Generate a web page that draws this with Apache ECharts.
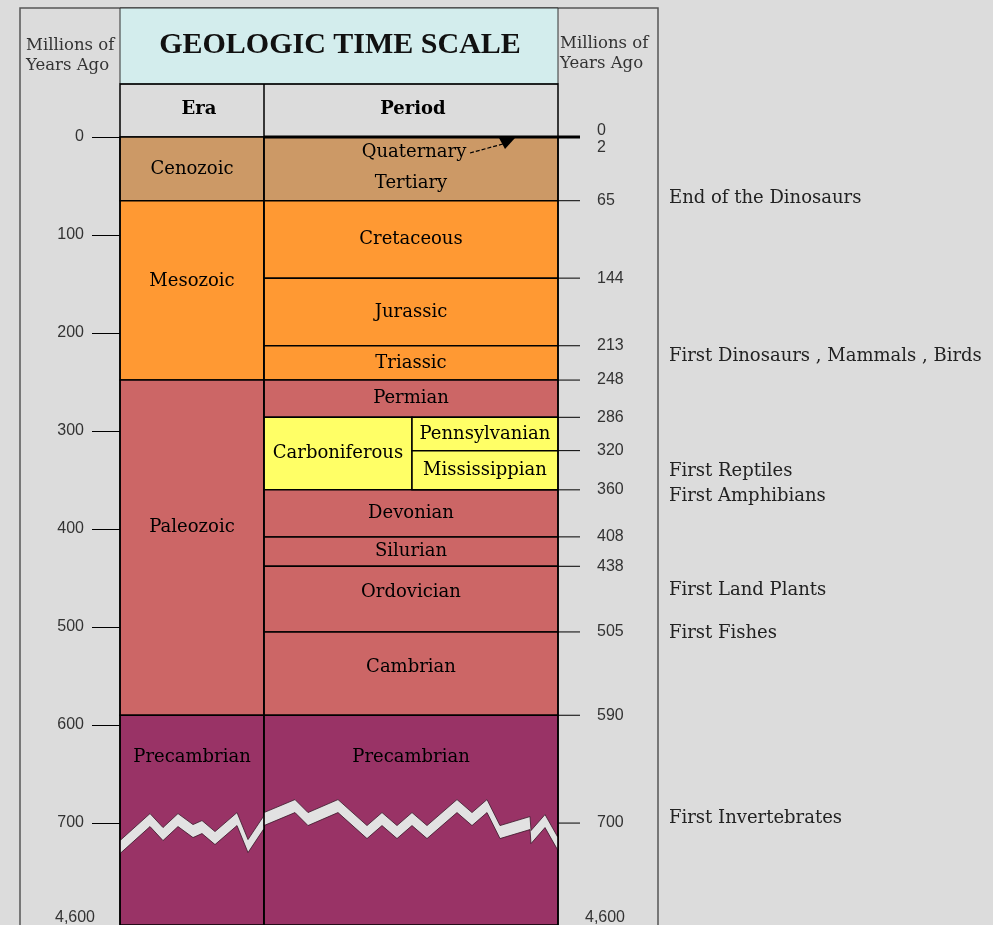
<!DOCTYPE html>
<html>
<head>
<meta charset="utf-8">
<script src="https://cdn.jsdelivr.net/npm/echarts@6/dist/echarts.min.js"></script>
<style>
html,body{margin:0;padding:0;background:#dcdcdc;}
#c{width:993px;height:925px;}
</style>
</head>
<body>
<div id="c"></div>
<script>
// ---------------- DATA (millions of years ago) ----------------
const eraNames   = ['Cenozoic', 'Mesozoic', 'Paleozoic', 'Precambrian'];
const eraStart   = [0, 65, 248, 590];
const eraEnd     = [65, 248, 590, 4600];

const periodNames = ['Tertiary', 'Cretaceous', 'Jurassic', 'Triassic', 'Permian', 'Carboniferous',
                     'Devonian', 'Silurian', 'Ordovician', 'Cambrian', 'Precambrian'];
const periodStart = [0, 65, 144, 213, 248, 286, 360, 408, 438, 505, 590];
const periodEnd   = [65, 144, 213, 248, 286, 360, 408, 438, 505, 590, 4600];

const subNames = ['Pennsylvanian', 'Mississippian'];
const subStart = [286, 320];
const subEnd   = [320, 360];

const quaternaryName = 'Quaternary';
const quaternaryEnd = 2;

const leftTicks = [0, 100, 200, 300, 400, 500, 600, 700];
const rightTicks = [65, 144, 213, 248, 286, 320, 360, 408, 438, 505, 590, 700];
const rightLabels = [0, 2, 65, 144, 213, 248, 286, 320, 360, 408, 438, 505, 590, 700, 4600];
const deepTime = 4600;

const eventNames = ['End of the Dinosaurs', 'First Dinosaurs , Mammals , Birds', 'First Reptiles',
                    'First Amphibians', 'First Land Plants', 'First Fishes', 'First Invertebrates'];
const eventAt = [63, 224, 341, 367, 463, 506, 695];

// ---------------- STYLE / LAYOUT ----------------
const ERA_COLORS = {Cenozoic:'#cc9966', Mesozoic:'#ff9933', Paleozoic:'#cc6666', Precambrian:'#993366'};
const PERIOD_COLORS = {Tertiary:'#cc9966', Cretaceous:'#ff9933', Jurassic:'#ff9933', Triassic:'#ff9933',
  Permian:'#cc6666', Carboniferous:'#ffff66', Devonian:'#cc6666', Silurian:'#cc6666', Ordovician:'#cc6666',
  Cambrian:'#cc6666', Precambrian:'#993366'};
const SUB_COLOR = '#ffff66';
const ERA_LABEL_AT = {Mesozoic:147, Paleozoic:398, Precambrian:633};
const PERIOD_LABEL_AT = {Tertiary:47, Ordovician:465, Cambrian:541, Precambrian:633};
const QUATERNARY_LABEL_AT = 16;
const COL = {eraL:120, eraR:264, carbSplit:412, periodR:558, tickR:580, numX:597, noteX:669};
const RIGHT_LABEL_DY = {0:-6, 2:9, 4600:-7};
const SERIF = "'DejaVu Serif', serif";
const SANS = "'Liberation Sans', Arial, sans-serif";
const BODY_SIZE = 18;
const NUM_SIZE = 16;
const ZIG_HALF = 6.5;

// axis compression beyond 700 Ma (break)
const BREAK_FROM = 700, AXIS_MAX = 804;
function pos(v) { return v <= BREAK_FROM ? v : BREAK_FROM + (v - BREAK_FROM) * (AXIS_MAX - BREAK_FROM) / (deepTime - BREAK_FROM); }

// zig-zag break marks: [x, pixel offset from 700 Ma line]
const ZIG_ERA = [[120,24],[150,-3],[163,11],[178,-3],[193,8],[202,4],[215,15],[237,-4],[248,23],[264,-1]];
const ZIG_PERIOD = [[264,-4],[295,-17],[308,-4],[338,-17],[367,9],[382,-4],[397,9],[412,-4],[427,9],
  [457,-17],[472,-4],[487,-17],[500,9],[530,0],[531,14],[545,-2],[558,21]];

function boxItem(api, x0, x1, s, e, color, label, labelAt) {
  const a = api.coord([x0, pos(s)]), b = api.coord([x1, pos(e)]);
  const ly = api.coord([x0, pos(labelAt)])[1];
  return {type:'group', children:[
    {type:'rect', shape:{x:a[0], y:a[1], width:b[0]-a[0], height:b[1]-a[1]},
      style:{fill:color, stroke:'#000', lineWidth:1.5}},
    {type:'text', x:(a[0]+b[0])/2, y:ly,
      style:{text:label, fill:'#000', fontSize:BODY_SIZE, fontFamily:SERIF, align:'center', verticalAlign:'middle'}}
  ]};
}

const chart = echarts.init(document.getElementById('c'));

const option = {
  animation: false,
  backgroundColor: '#dcdcdc',
  grid: {left: 120, right: 0, top: 137, bottom: 0},
  xAxis: {type:'value', min:120, max:993, show:false},
  yAxis: {
    type:'value', inverse:true, min:0, max:AXIS_MAX, interval:100,
    axisLine:{show:false}, splitLine:{show:false},
    axisTick:{show:true, length:28, lineStyle:{color:'#000', width:1}, customValues: leftTicks},
    axisLabel:{show:true, margin:36, color:'#333', fontFamily:SANS, fontSize:NUM_SIZE,
      customValues: leftTicks, formatter: v => (v > BREAK_FROM ? '' : String(v))}
  },
  graphic: [
    {type:'rect', z:0, shape:{x:20, y:8, width:638, height:940}, style:{fill:'none', stroke:'#555', lineWidth:1.5}},
    {type:'rect', z:1, shape:{x:120, y:8, width:438, height:76}, style:{fill:'#d3eded', stroke:'#333', lineWidth:1}},
    {type:'text', z:2, x:340, y:45, style:{text:'GEOLOGIC TIME SCALE', fill:'#111', fontSize:30, fontWeight:'bold',
      fontFamily:"'Liberation Serif', serif", align:'center', verticalAlign:'middle'}},
    {type:'rect', z:1, shape:{x:120, y:84, width:438, height:53}, style:{fill:'none', stroke:'#000', lineWidth:1.5}},
    {type:'line', z:1, shape:{x1:264, y1:84, x2:264, y2:137}, style:{stroke:'#000', lineWidth:1.5}},
    {type:'text', z:2, x:199, y:109, style:{text:'Era', fill:'#000', fontSize:18, fontWeight:'bold', fontFamily:SERIF, align:'center', verticalAlign:'middle'}},
    {type:'text', z:2, x:413, y:109, style:{text:'Period', fill:'#000', fontSize:18, fontWeight:'bold', fontFamily:SERIF, align:'center', verticalAlign:'middle'}},
    {type:'text', z:2, x:26, y:56, style:{text:'Millions of\nYears Ago', fill:'#333', fontSize:16.5, lineHeight:20, fontFamily:SERIF, align:'left', verticalAlign:'middle'}},
    {type:'text', z:2, x:560, y:54, style:{text:'Millions of\nYears Ago', fill:'#333', fontSize:16.5, lineHeight:20, fontFamily:SERIF, align:'left', verticalAlign:'middle'}}
  ],
  series: [
    { // eras
      type:'custom', z:2, clip:false,
      data: eraNames.map((n, i) => ({name:n, value:[eraStart[i], eraEnd[i]]})),
      renderItem(params, api) {
        const i = params.dataIndex, n = eraNames[i];
        const la = ERA_LABEL_AT[n] !== undefined ? ERA_LABEL_AT[n] : (eraStart[i] + eraEnd[i]) / 2;
        return boxItem(api, COL.eraL, COL.eraR, eraStart[i], eraEnd[i], ERA_COLORS[n], n, la);
      }
    },
    { // periods
      type:'custom', z:2, clip:false,
      data: periodNames.map((n, i) => ({name:n, value:[periodStart[i], periodEnd[i]]})),
      renderItem(params, api) {
        const i = params.dataIndex, n = periodNames[i];
        const hasSub = subStart.some(s => s >= periodStart[i] && s < periodEnd[i]);
        const la = PERIOD_LABEL_AT[n] !== undefined ? PERIOD_LABEL_AT[n] : (periodStart[i] + periodEnd[i]) / 2;
        return boxItem(api, COL.eraR, hasSub ? COL.carbSplit : COL.periodR, periodStart[i], periodEnd[i], PERIOD_COLORS[n], n, la);
      }
    },
    { // sub-periods
      type:'custom', z:2, clip:false,
      data: subNames.map((n, i) => ({name:n, value:[subStart[i], subEnd[i]]})),
      renderItem(params, api) {
        const i = params.dataIndex;
        return boxItem(api, COL.carbSplit, COL.periodR, subStart[i], subEnd[i], SUB_COLOR, subNames[i], (subStart[i] + subEnd[i]) / 2);
      }
    },
    { // decorations: break marks, column lines, Quaternary label + arrow, 0 line
      type:'custom', z:5, clip:false,
      data: [[0, 0]],
      renderItem(params, api) {
        const y700 = api.coord([0, BREAK_FROM])[1];
        const band = pts => {
          const topEdge = pts.map(p => [api.coord([p[0], BREAK_FROM])[0], y700 + p[1] - ZIG_HALF]);
          const botEdge = pts.map(p => [api.coord([p[0], BREAK_FROM])[0], y700 + p[1] + ZIG_HALF]).reverse();
          return topEdge.concat(botEdge);
        };
        const top = api.coord([COL.eraL, 0]);
        const bot = api.coord([COL.eraL, AXIS_MAX]);
        const xs = [COL.eraL, COL.eraR, COL.periodR].map(x => api.coord([x, 0])[0]);
        const yq = api.coord([0, quaternaryEnd])[1];
        const qLabel = api.coord([0, QUATERNARY_LABEL_AT])[1];
        const children = [];
        [ZIG_ERA, ZIG_PERIOD].forEach(z => {
          children.push({type:'polygon', shape:{points:band(z)}, style:{fill:'#e2e2e2', stroke:'#3a1528', lineWidth:0.8}});
        });
        xs.forEach(x => children.push({type:'line', shape:{x1:x, y1:top[1], x2:x, y2:bot[1]}, style:{stroke:'#000', lineWidth:1.5}}));
        const x0 = api.coord([COL.eraR, 0])[0], xt = api.coord([COL.tickR, 0])[0];
        children.push({type:'line', shape:{x1:x0, y1:top[1], x2:xt, y2:top[1]}, style:{stroke:'#000', lineWidth:3}});
        children.push({type:'text', x:api.coord([414, 0])[0], y:qLabel,
          style:{text:quaternaryName, fill:'#000', fontSize:BODY_SIZE, fontFamily:SERIF, align:'center', verticalAlign:'middle'}});
        children.push({type:'line', shape:{x1:470, y1:yq+14, x2:503, y2:yq+5}, style:{stroke:'#000', lineWidth:1.2, lineDash:[4,2]}});
        children.push({type:'polygon', shape:{points:[[499, yq-1],[515, yq-1],[505, yq+10]]}, style:{fill:'#000'}});
        return {type:'group', children};
      }
    },
    { // right ticks
      type:'custom', z:4, clip:false,
      data: rightTicks.map(v => [v]),
      renderItem(params, api) {
        const v = rightTicks[params.dataIndex];
        const a = api.coord([COL.periodR, pos(v)]), b = api.coord([COL.tickR, pos(v)]);
        return {type:'line', shape:{x1:a[0], y1:a[1], x2:b[0], y2:b[1]}, style:{stroke:'#000', lineWidth:1}};
      }
    },
    { // right labels + deep-time left label
      type:'custom', z:4, clip:false,
      data: rightLabels.map(v => [v]),
      renderItem(params, api) {
        const v = rightLabels[params.dataIndex];
        const p = api.coord([COL.numX, pos(v)]);
        const y = p[1] + (RIGHT_LABEL_DY[v] || 0);
        const txt = v.toLocaleString('en-US');
        const children = [];
        if (v === deepTime) {
          children.push({type:'text', x:605, y, style:{text:txt, fill:'#333', fontSize:NUM_SIZE, fontFamily:SANS, align:'center', verticalAlign:'middle'}});
          children.push({type:'text', x:75, y, style:{text:txt, fill:'#333', fontSize:NUM_SIZE, fontFamily:SANS, align:'center', verticalAlign:'middle'}});
        } else {
          children.push({type:'text', x:p[0], y, style:{text:txt, fill:'#333', fontSize:NUM_SIZE, fontFamily:SANS, align:'left', verticalAlign:'middle'}});
        }
        return {type:'group', children};
      }
    },
    { // events
      type:'custom', z:4, clip:false,
      data: eventNames.map((n, i) => ({name:n, value:[eventAt[i]]})),
      renderItem(params, api) {
        const i = params.dataIndex;
        const p = api.coord([COL.noteX, pos(eventAt[i])]);
        return {type:'text', x:p[0], y:p[1],
          style:{text:eventNames[i], fill:'#222', fontSize:BODY_SIZE, fontFamily:SERIF, align:'left', verticalAlign:'middle'}};
      }
    }
  ]
};
chart.setOption(option);
</script>
</body>
</html>
